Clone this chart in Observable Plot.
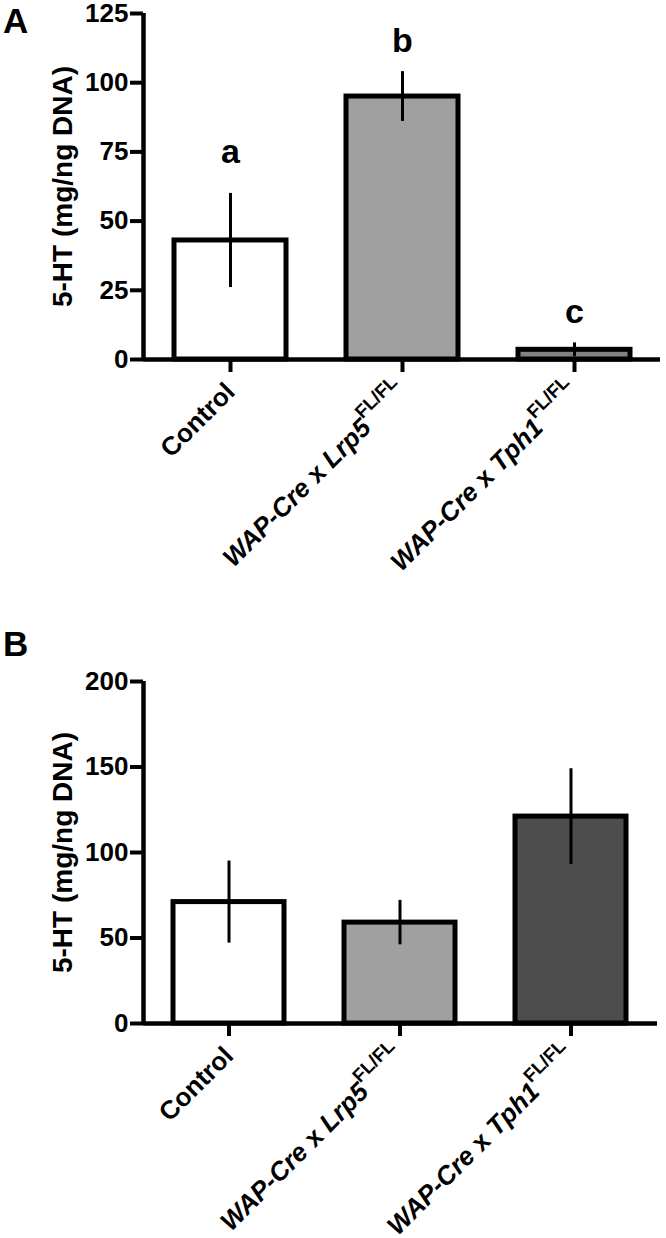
<!DOCTYPE html>
<html>
<head>
<meta charset="utf-8">
<script src="https://cdn.jsdelivr.net/npm/d3@7"></script>
<script src="https://cdn.jsdelivr.net/npm/@observablehq/plot@0.6"></script>
<style>
  html, body { margin: 0; padding: 0; background: #fff; }
  #wrap { position: relative; width: 666px; height: 1238px; overflow: hidden; font-family: "Liberation Sans", Arial, Helvetica, sans-serif; background: #fff; }
  .panel { position: absolute; left: 0; z-index: 1; }
  .letter { position: absolute; z-index: 2; font-weight: bold; font-size: 35px; line-height: 35px; color: #000; }
</style>
</head>
<body>
<div id="wrap">
  <div class="panel" id="pa" style="top:0px;"></div>
  <div class="panel" id="pb" style="top:600px;"></div>
  <div class="letter" style="left:3px; top:3px;">A</div>
  <div class="letter" style="left:3px; top:626px;">B</div>
</div>
<script>
// ---- data ----
const groups = ["Control", "WAP-Cre x Lrp5FL/FL", "WAP-Cre x Tph1FL/FL"];
const meanA = [43, 95, 3.5];
const semA = [17, 9, 2.5];
const sigLetters = ["a", "b", "c"];
const sigLetterY = [75, 115, 17];
const meanB = [71, 59, 121];
const semB = [24, 13, 28];
const yTicksA = [0, 25, 50, 75, 100, 125];
const yTicksB = [0, 50, 100, 150, 200];
const yTitle = "5-HT (mg/ng DNA)";
// rich label pieces: [text, style]
const labelParts = {
  "Control": [["Control", "n"]],
  "WAP-Cre x Lrp5FL/FL": [["WAP-Cre", "i"], [" x ", "n"], ["Lrp5", "i"], ["FL/FL", "sup"]],
  "WAP-Cre x Tph1FL/FL": [["WAP-Cre", "i"], [" x ", "n"], ["Tph1", "i"], ["FL/FL", "sup"]]
};

const dataA = groups.map((g, i) => ({g, v: meanA[i], e: semA[i], letter: sigLetters[i], ly: sigLetterY[i]}));
const dataB = groups.map((g, i) => ({g, v: meanB[i], e: semB[i]}));

const FONT = '"Liberation Sans", Arial, Helvetica, sans-serif';

function panel({data, yDomain, yTicks, fills, height, marginTop, marginBottom, marginRight, letters}) {
  const frameWidth = 666 - 143 - marginRight;
  const marks = [
    Plot.barY(data, {x: "g", y: "v", fill: "g", stroke: "black", strokeWidth: 5}),
    Plot.ruleX(data, {x: "g", y1: d => d.v - d.e, y2: d => d.v + d.e, stroke: "black", strokeWidth: 3}),
    Plot.ruleY([0], {stroke: "black", strokeWidth: 4.5}),
    // y axis line at the left edge of the frame (rule without x is centred, shifted to the left edge)
    Plot.ruleX([0], {x: null, y1: yDomain[0], y2: yDomain[1], dx: -frameWidth / 2, stroke: "black", strokeWidth: 4.5}),
    Plot.axisY({ticks: yTicks, tickSize: 13, strokeWidth: 4, fontSize: 26, fontWeight: "bold", tickPadding: 2, label: null}),
    Plot.axisX({tickSize: 13, strokeWidth: 4, tickRotate: -45, fontSize: 26, fontWeight: "bold", tickPadding: 15, label: null}),
    Plot.text([yTitle], {frameAnchor: "left", textAnchor: "middle", lineAnchor: "middle", dx: -80, rotate: -90, fontSize: 28, fontWeight: "bold", fill: "black"})
  ];
  if (letters) {
    marks.push(Plot.text(data, {x: "g", y: "ly", text: "letter", fontSize: 34, fontWeight: "bold", fill: "black"}));
  }
  return Plot.plot({
    width: 666,
    height,
    marginLeft: 143,
    marginRight,
    marginTop,
    marginBottom,
    style: {fontFamily: FONT, color: "black", background: "transparent", overflow: "visible"},
    x: {domain: groups, paddingInner: 0.35, paddingOuter: 0.17, label: null},
    y: {domain: yDomain, label: null},
    color: {domain: groups, range: fills},
    marks
  });
}

function richLabels(svg) {
  svg.querySelectorAll("text").forEach(t => {
    const key = t.textContent;
    if (!(key in labelParts)) return;
    while (t.firstChild) t.removeChild(t.firstChild);
    for (const [s, kind] of labelParts[key]) {
      const ts = document.createElementNS("http://www.w3.org/2000/svg", "tspan");
      ts.textContent = s;
      if (kind === "i") ts.setAttribute("font-style", "italic");
      if (kind === "sup") {
        ts.setAttribute("font-size", "0.72em");
        ts.setAttribute("dy", "-0.75em");
      }
      t.appendChild(ts);
    }
  });
}

const a = panel({data: dataA, yDomain: [0, 125], yTicks: yTicksA, fills: ["#ffffff", "#a0a0a0", "#828282"],
  height: 600, marginTop: 13, marginBottom: 241, marginRight: 6, letters: true});
richLabels(a);
document.getElementById("pa").appendChild(a);

const b = panel({data: dataB, yDomain: [0, 200], yTicks: yTicksB, fills: ["#ffffff", "#a0a0a0", "#4d4d4d"],
  height: 638, marginTop: 81, marginBottom: 215, marginRight: 9, letters: false});
richLabels(b);
document.getElementById("pb").appendChild(b);
</script>
</body>
</html>
